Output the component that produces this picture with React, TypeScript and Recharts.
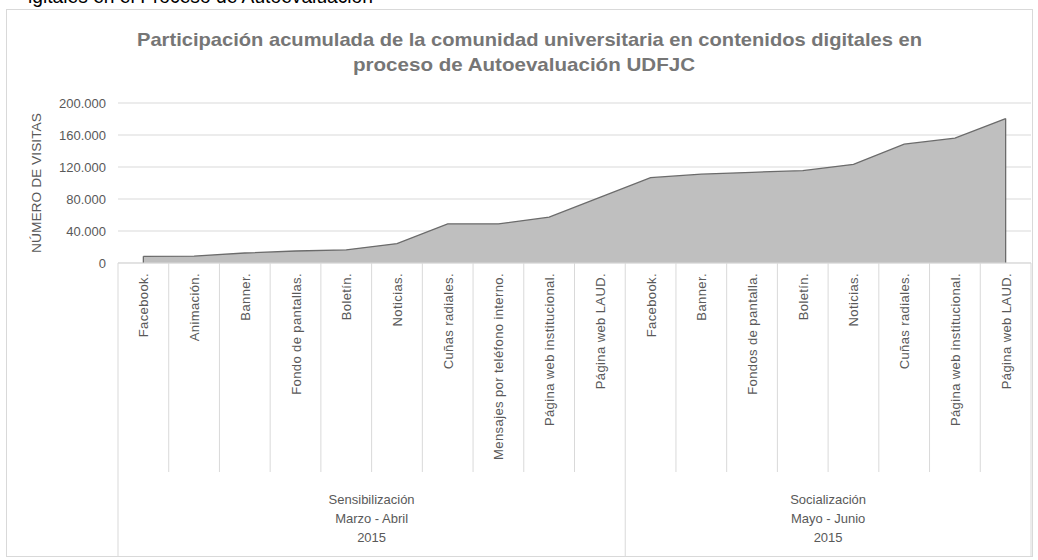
import React from 'react';
import { AreaChart, Area, XAxis, YAxis, CartesianGrid, ReferenceLine } from 'recharts';

const categories = [
  'Facebook.', 'Animación.', 'Banner.', 'Fondo de pantallas.', 'Boletín.', 'Noticias.',
  'Cuñas radiales.', 'Mensajes por teléfono interno.', 'Página web institucional.', 'Página web LAUD.',
  'Facebook.', 'Banner.', 'Fondos de pantalla.', 'Boletín.', 'Noticias.', 'Cuñas radiales.',
  'Página web institucional.', 'Página web LAUD.',
];
const visits = [8400, 8700, 12500, 15000, 16500, 24300, 49000, 49000, 57300, 82000,
  106600, 111000, 113400, 115400, 123400, 148500, 156000, 180600];
const groupNames = ['Sensibilización', 'Socialización'];
const groupPeriods = ['Marzo - Abril', 'Mayo - Junio'];
const groupYears = ['2015', '2015'];
const groupCounts = [10, 8];
const yTicks = [0, 40000, 80000, 120000, 160000, 200000];

const W = 1038;
const H = 560;
const PLOT_LEFT = 118;
const MARGIN_TOP = 103;
const MARGIN_RIGHT = 7;
const XAXIS_H = 297;
const AXIS_Y = H - XAXIS_H;
const BAND = (W - MARGIN_RIGHT - PLOT_LEFT) / categories.length;
const TICK_LINE_END = 472;
const GROUP_LINE_END = 556;
const FONT = "'Liberation Sans', Arial, sans-serif";
const TEXT = '#595959';
const LINE = '#d9d9d9';
const AREA_LINE = '#6b6b6b';

const data = categories.map((c, i) => ({ id: 'c' + i, label: c, v: visits[i] }));

const groupStarts: number[] = [];
{
  let s = 0;
  groupCounts.forEach((n) => { groupStarts.push(s); s += n; });
}

const fmt = (v: number) => String(v).replace(/\B(?=(\d{3})+(?!\d))/g, '.');

function CategoryTick(props: any) {
  const { x, index } = props;
  const half = BAND / 2;
  const gi = groupStarts.indexOf(index);
  const isStart = gi >= 0;
  const isLast = index === categories.length - 1;
  return (
    <g>
      <line x1={x - half} x2={x - half} y1={AXIS_Y} y2={isStart ? GROUP_LINE_END : TICK_LINE_END} stroke={LINE} strokeWidth={1} />
      {isLast && (
        <line x1={x + half} x2={x + half} y1={AXIS_Y} y2={GROUP_LINE_END} stroke={LINE} strokeWidth={1} />
      )}
      <text
        transform={`translate(${x + 5},${AXIS_Y + 10}) rotate(-90)`}
        textAnchor="end"
        fontFamily={FONT}
        fontSize={13}
        letterSpacing={0.4}
        fill={TEXT}
      >
        {categories[index]}
      </text>
      {isStart && (() => {
        const cx = x - half + (groupCounts[gi] * BAND) / 2;
        return (
          <g fontFamily={FONT} fontSize={13} fill={TEXT} textAnchor="middle">
            <text x={cx} y={504}>{groupNames[gi]}</text>
            <text x={cx} y={523}>{groupPeriods[gi]}</text>
            <text x={cx} y={542}>{groupYears[gi]}</text>
          </g>
        );
      })()}
    </g>
  );
}

export default function App() {
  return (
    <div style={{ position: 'absolute', left: 0, top: 0, width: W, height: H, background: '#fff' }}>
      <svg width={W} height={H} style={{ position: 'absolute', left: 0, top: 0 }}>
        <text x={28} y={3} fontFamily={FONT} fontSize={20} fill="#000" textLength={345} lengthAdjust="spacingAndGlyphs">
          igitales en el Proceso de Autoevaluación
        </text>
        <rect x={6.5} y={9.5} width={1026} height={547} fill="#fff" stroke={LINE} strokeWidth={1} />
        <text x={137} y={46} fontFamily={FONT} fontSize={19} fontWeight="bold" fill="#767676" textLength={785} lengthAdjust="spacingAndGlyphs">
          Participación acumulada de la comunidad universitaria en contenidos digitales en
        </text>
        <text x={353} y={71} fontFamily={FONT} fontSize={19} fontWeight="bold" fill="#767676" textLength={342} lengthAdjust="spacingAndGlyphs">
          proceso de Autoevaluación UDFJC
        </text>
        <text transform="translate(41,183) rotate(-90)" textAnchor="middle" fontFamily={FONT} fontSize={13} fill={TEXT} textLength={140} lengthAdjust="spacingAndGlyphs">
          NÚMERO DE VISITAS
        </text>
      </svg>
      <div style={{ position: 'absolute', left: 0, top: 0 }}>
        <AreaChart width={W} height={H} data={data} margin={{ top: MARGIN_TOP, right: MARGIN_RIGHT, bottom: 0, left: 0 }}>
          <CartesianGrid horizontal={true} vertical={false} stroke={LINE} strokeWidth={1} />
          <YAxis
            domain={[0, 200000]}
            ticks={yTicks}
            width={PLOT_LEFT}
            axisLine={false}
            tickLine={false}
            tickMargin={6}
            tickFormatter={fmt}
            tick={{ fill: TEXT, fontSize: 13, fontFamily: FONT }}
          />
          <XAxis
            dataKey="id"
            type="category"
            interval={0}
            height={XAXIS_H}
            padding={{ left: BAND / 2, right: BAND / 2 }}
            tickLine={false}
            axisLine={{ stroke: LINE }}
            tick={(p: any) => <CategoryTick {...p} />}
          />
          <Area
            type="linear"
            dataKey="v"
            stroke={AREA_LINE}
            strokeWidth={1.3}
            fill="#bfbfbf"
            fillOpacity={1}
            dot={false}
            activeDot={false}
            isAnimationActive={false}
          />
          <ReferenceLine segment={[{ x: data[0].id, y: 0 }, { x: data[0].id, y: visits[0] }]} stroke={AREA_LINE} strokeWidth={1.3} />
          <ReferenceLine segment={[{ x: data[data.length - 1].id, y: 0 }, { x: data[data.length - 1].id, y: visits[visits.length - 1] }]} stroke={AREA_LINE} strokeWidth={1.3} />
        </AreaChart>
      </div>
    </div>
  );
}
